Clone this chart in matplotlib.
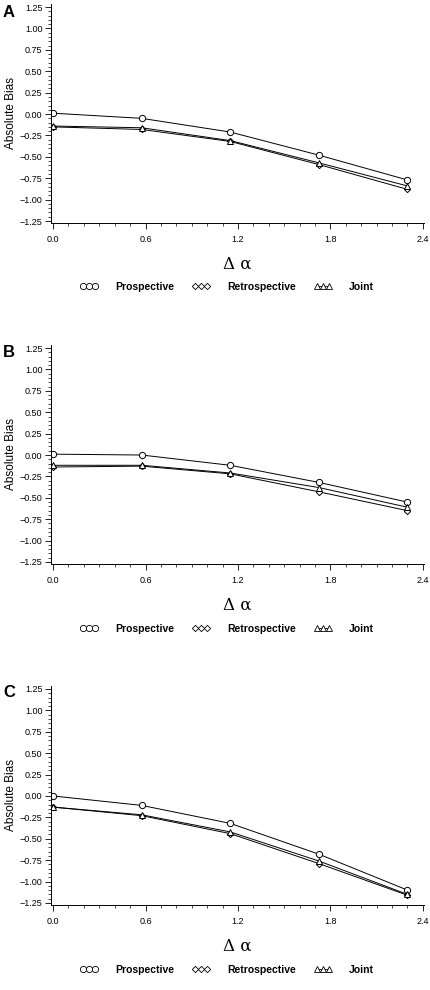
import numpy as np
import matplotlib
matplotlib.use("Agg")
import matplotlib.pyplot as plt
from matplotlib.ticker import MultipleLocator, FuncFormatter
from matplotlib.lines import Line2D

plt.rcParams['font.family'] = ['Liberation Sans', 'DejaVu Sans']

# delta alpha values
delta_alpha = [0.0, 0.575, 1.15, 1.725, 2.30]

# panel A
a_prospective = [0.01, -0.05, -0.21, -0.48, -0.77]
a_retrospective = [-0.15, -0.18, -0.32, -0.59, -0.88]
a_joint = [-0.14, -0.16, -0.31, -0.57, -0.84]

# panel B
b_prospective = [0.01, 0.00, -0.12, -0.32, -0.55]
b_retrospective = [-0.14, -0.13, -0.22, -0.43, -0.65]
b_joint = [-0.12, -0.12, -0.21, -0.38, -0.61]

# panel C
c_prospective = [0.00, -0.11, -0.32, -0.68, -1.10]
c_retrospective = [-0.13, -0.23, -0.44, -0.79, -1.16]
c_joint = [-0.13, -0.22, -0.42, -0.76, -1.15]

panels = ["A", "B", "C"]
series_names = ["Prospective", "Retrospective", "Joint"]
x_ticks = [0.0, 0.6, 1.2, 1.8, 2.4]
y_ticks = [1.25, 1.00, 0.75, 0.50, 0.25, 0.00, -0.25, -0.50, -0.75, -1.00, -1.25]

data = [
    (a_prospective, a_retrospective, a_joint),
    (b_prospective, b_retrospective, b_joint),
    (c_prospective, c_retrospective, c_joint),
]

markers = ["o", "D", "^"]
msizes = [4.5, 3.2, 3.8]

fig = plt.figure(figsize=(4.3, 9.9), dpi=100)

bottoms = [0.775, 0.4306, 0.0862]
legend_y = [0.710, 0.3646, 0.0202]
label_y = [0.995, 0.652, 0.308]


def fmt(v, pos):
    s = "%.2f" % v
    if s == "-0.00":
        s = "0.00"
    return s.replace("-", "\u2212")


for i in range(3):
    ax = fig.add_axes([0.118, bottoms[i], 0.869, 0.2213])
    for j in range(3):
        ax.plot(delta_alpha, data[i][j], color="black", lw=0.7,
                marker=markers[j], ms=msizes[j], mfc="white", mec="black",
                mew=0.7)
    ax.set_xlim(-0.015, 2.41)
    ax.set_ylim(-1.27, 1.29)
    ax.spines["top"].set_visible(False)
    ax.spines["right"].set_visible(False)
    ax.spines["left"].set_linewidth(0.7)
    ax.spines["bottom"].set_linewidth(0.7)
    ax.set_xticks(x_ticks)
    ax.set_xticklabels(["%.1f" % t for t in x_ticks])
    ax.set_yticks(y_ticks)
    ax.yaxis.set_major_formatter(FuncFormatter(fmt))
    ax.xaxis.set_minor_locator(MultipleLocator(0.1))
    ax.yaxis.set_minor_locator(MultipleLocator(0.05))
    ax.tick_params(which="major", length=4, width=0.6, labelsize=6.5, pad=2)
    ax.tick_params(which="minor", length=2, width=0.5)
    ax.tick_params(axis="x", pad=5)
    ax.set_ylabel("Absolute Bias", fontsize=8.5, labelpad=2)
    ax.set_xlabel("\u0394 \u03b1", fontsize=12, family="DejaVu Serif",
                  labelpad=8)

    fig.text(0.007, label_y[i], panels[i], fontsize=12, fontweight="bold",
             va="top", ha="left")

    handles = [Line2D([0], [0], color="black", lw=0.6, marker=markers[j],
                      ms=msizes[j], mfc="white", mec="black", mew=0.6)
               for j in range(3)]
    fig.legend(handles, series_names, loc="center",
               bbox_to_anchor=(0.527, legend_y[i]), ncol=3, frameon=False,
               numpoints=3, handlelength=1.8, handletextpad=1.6,
               columnspacing=1.7, prop={"size": 7.5, "weight": "bold"})

fig.savefig("out.png", dpi=100)
